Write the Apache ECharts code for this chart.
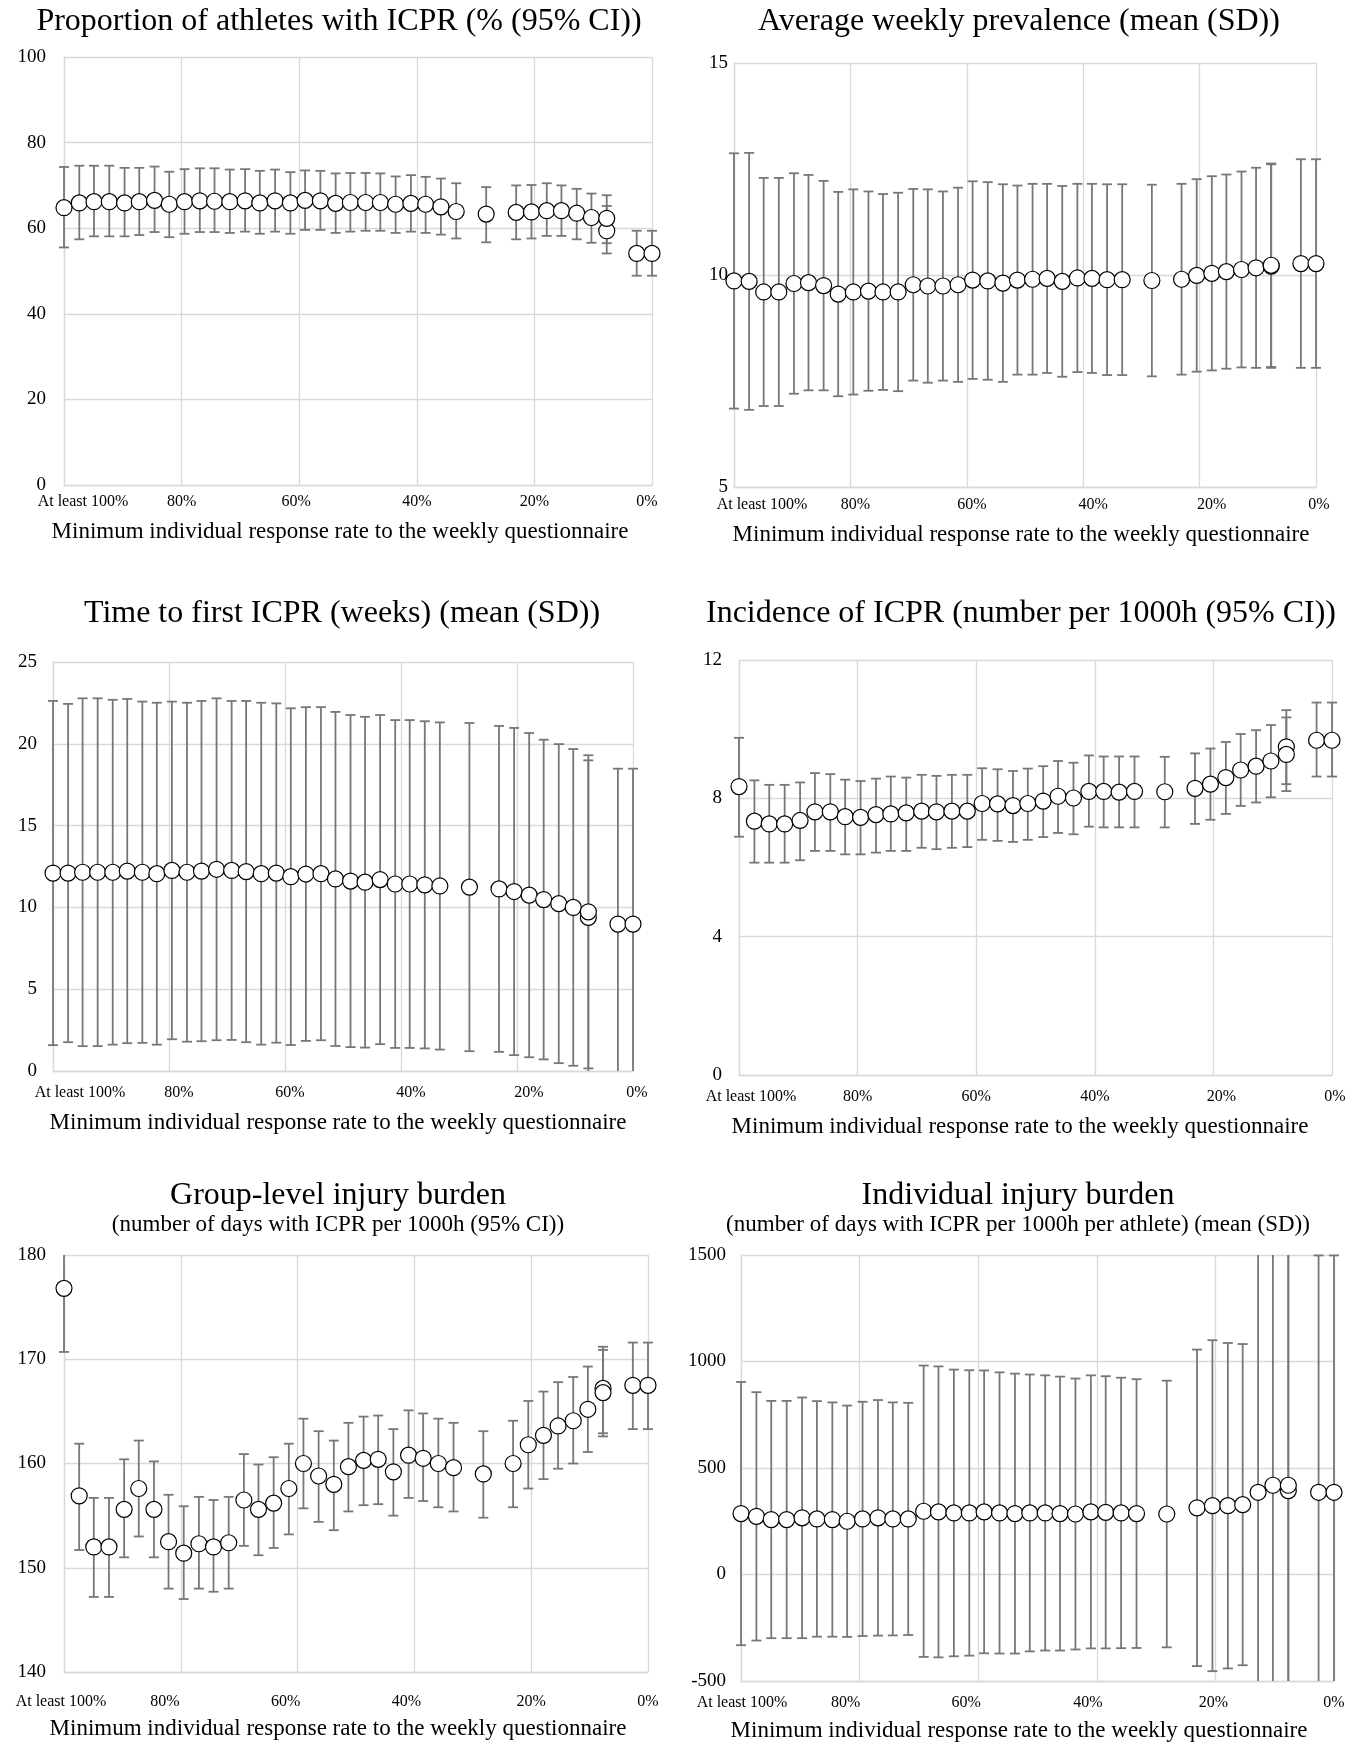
<!DOCTYPE html>
<html>
<head>
<meta charset="utf-8">
<script src="https://cdn.jsdelivr.net/npm/echarts@6.0.0/dist/echarts.min.js"></script>
<style>
  html, body { margin: 0; padding: 0; background: #fff; }
  #chart { width: 1359px; height: 1744px; }
</style>
</head>
<body>
<div id="chart"></div>
<script>
// Minimum individual response rate (%) used as the inclusion threshold
const responseRate = [100, 97.4, 94.9, 92.3, 89.7, 87.2, 84.6, 82.1, 79.5, 76.9, 74.4, 71.8, 69.2,
  66.7, 64.1, 61.5, 59.0, 56.4, 53.8, 51.3, 48.7, 46.2, 43.6, 41.0, 38.5, 35.9, 33.3,
  28.2, 23.1, 20.5, 17.9, 15.4, 12.8, 10.3, 7.7, 7.7, 2.6, 0];
const rateTicks = [100, 80, 60, 40, 20, 0];

// Proportion of athletes with ICPR, % (95% CI)
const proportionMean = [64.8, 65.9, 66.2, 66.2, 65.9, 66.2, 66.5, 65.6, 66.2, 66.4, 66.3, 66.2, 66.4,
  65.9, 66.4, 65.9, 66.5, 66.4, 65.8, 66.0, 66.0, 66.0, 65.6, 65.8, 65.6, 65.0, 63.9,
  63.3, 63.7, 63.8, 64.1, 64.1, 63.5, 62.5, 59.4, 62.3, 54.1, 54.1];
const proportionLow = [55.5, 57.4, 58.1, 58.1, 58.1, 58.4, 59.1, 57.9, 58.7, 59.1, 59.1, 58.9, 59.2,
  58.7, 59.2, 58.7, 59.6, 59.6, 58.9, 59.2, 59.4, 59.4, 58.9, 59.2, 58.9, 58.5, 57.6,
  56.7, 57.4, 57.6, 58.2, 58.2, 57.4, 56.6, 54.1, 56.5, 48.9, 48.9];
const proportionHigh = [74.3, 74.6, 74.6, 74.6, 74.1, 74.1, 74.4, 73.2, 73.8, 74.0, 74.0, 73.7, 73.8,
  73.4, 73.7, 73.1, 73.5, 73.4, 72.8, 72.9, 72.9, 72.8, 72.1, 72.4, 72.0, 71.6, 70.5,
  69.6, 70.0, 70.1, 70.5, 70.0, 69.2, 68.1, 65.2, 67.7, 59.4, 59.4];

// Average weekly prevalence, mean (SD)
const prevalenceMean = [9.86, 9.85, 9.60, 9.60, 9.80, 9.82, 9.75, 9.55, 9.60, 9.62, 9.60, 9.60, 9.77,
  9.74, 9.74, 9.77, 9.88, 9.86, 9.81, 9.88, 9.90, 9.92, 9.85, 9.93, 9.92, 9.89, 9.89,
  9.87, 9.90, 9.99, 10.04, 10.08, 10.13, 10.17, 10.21, 10.23, 10.27, 10.27];
const prevalenceSD = [3.01, 3.03, 2.69, 2.69, 2.60, 2.54, 2.47, 2.41, 2.42, 2.35, 2.31, 2.34, 2.26,
  2.28, 2.23, 2.29, 2.33, 2.33, 2.33, 2.23, 2.25, 2.23, 2.25, 2.22, 2.23, 2.25, 2.25,
  2.26, 2.25, 2.27, 2.29, 2.29, 2.31, 2.36, 2.40, 2.40, 2.46, 2.46];

// Time to first ICPR in weeks, mean (SD)
const timeMean = [12.10, 12.10, 12.15, 12.15, 12.15, 12.22, 12.15, 12.06, 12.26, 12.15, 12.22, 12.33, 12.26,
  12.19, 12.06, 12.10, 11.88, 12.04, 12.06, 11.74, 11.61, 11.54, 11.70, 11.43, 11.43, 11.38, 11.31,
  11.24, 11.13, 10.97, 10.75, 10.48, 10.23, 10.00, 9.39, 9.73, 8.98, 8.98];
const timeSD = [10.52, 10.34, 10.63, 10.63, 10.54, 10.52, 10.43, 10.45, 10.32, 10.36, 10.40, 10.45, 10.36,
  10.43, 10.45, 10.37, 10.29, 10.20, 10.18, 10.21, 10.15, 10.11, 10.06, 10.02, 10.02, 10.00, 10.00,
  10.03, 9.96, 10.00, 9.91, 9.77, 9.75, 9.68, 9.60, 9.57, 9.50, 9.50];

// Incidence of ICPR per 1000 h (95% CI)
const incidenceMean = [8.34, 7.34, 7.26, 7.26, 7.36, 7.61, 7.61, 7.47, 7.45, 7.53, 7.55, 7.58, 7.63,
  7.61, 7.63, 7.63, 7.85, 7.84, 7.79, 7.85, 7.92, 8.06, 8.01, 8.20, 8.20, 8.18, 8.20,
  8.19, 8.29, 8.41, 8.60, 8.82, 8.93, 9.08, 9.49, 9.27, 9.68, 9.68];
const incidenceLow = [6.89, 6.14, 6.14, 6.14, 6.21, 6.48, 6.48, 6.38, 6.38, 6.43, 6.48, 6.48, 6.57,
  6.53, 6.57, 6.59, 6.80, 6.77, 6.74, 6.80, 6.88, 7.00, 6.96, 7.18, 7.16, 7.16, 7.16,
  7.16, 7.26, 7.38, 7.55, 7.78, 7.88, 8.03, 8.41, 8.21, 8.63, 8.63];
const incidenceHigh = [9.75, 8.52, 8.39, 8.39, 8.46, 8.73, 8.70, 8.54, 8.50, 8.57, 8.63, 8.60, 8.68,
  8.65, 8.68, 8.68, 8.87, 8.84, 8.79, 8.86, 8.93, 9.08, 9.03, 9.24, 9.21, 9.21, 9.21,
  9.20, 9.30, 9.44, 9.63, 9.86, 9.97, 10.12, 10.55, 10.34, 10.77, 10.77];

// Group-level injury burden, days with ICPR per 1000 h (95% CI)
const groupBurdenMean = [176.8, 156.9, 152.0, 152.0, 155.6, 157.6, 155.6, 152.5, 151.4, 152.3, 152.0, 152.4, 156.5,
  155.6, 156.2, 157.6, 160.0, 158.8, 158.0, 159.7, 160.3, 160.4, 159.2, 160.8, 160.5, 160.0, 159.6,
  159.0, 160.0, 161.8, 162.7, 163.6, 164.1, 165.2, 167.2, 166.8, 167.5, 167.5];
const groupBurdenLow = [170.7, 151.7, 147.2, 147.2, 151.0, 153.0, 151.0, 148.0, 147.0, 148.0, 147.7, 148.0, 152.1,
  151.2, 151.9, 153.2, 155.7, 154.4, 153.6, 155.4, 156.0, 156.1, 155.0, 156.7, 156.4, 155.8, 155.4,
  154.8, 155.8, 157.6, 158.5, 159.5, 160.0, 161.1, 162.9, 162.6, 163.3, 163.3];
const groupBurdenHigh = [182.9, 161.9, 156.7, 156.7, 160.4, 162.2, 160.2, 157.0, 155.9, 156.8, 156.5, 156.8, 160.9,
  159.9, 160.6, 161.9, 164.3, 163.1, 162.2, 163.9, 164.5, 164.6, 163.3, 165.1, 164.8, 164.3, 163.9,
  163.1, 164.1, 166.0, 166.9, 167.8, 168.3, 169.3, 171.2, 170.9, 171.6, 171.6];

// Individual injury burden, days with ICPR per 1000 h per athlete, mean (SD)
const indivBurdenMean = [286, 273, 258, 258, 266, 261, 258, 250, 261, 266, 261, 261, 297,
  294, 289, 289, 294, 289, 286, 289, 289, 286, 284, 294, 292, 289, 286,
  284, 313, 323, 323, 328, 386, 419, 394, 419, 386, 386];
const indivBurdenSD = [618, 583, 557, 557, 565, 553, 550, 543, 550, 553, 547, 545, 684,
  683, 673, 670, 664, 660, 657, 650, 646, 643, 636, 641, 639, 635, 631,
  626, 743, 777, 764, 754, 1300, 1350, 1350, 1350, 1112, 1112];

const xAxisTitle = 'Minimum individual response rate to the weekly questionnaire';

const FONT = "'Liberation Serif', 'Times New Roman', serif";
const BAR_COLOR = '#777777';
const GRID_COLOR = '#d9d9d9';

const minus = (a, b) => a.map((v, i) => v - b[i]);
const plus = (a, b) => a.map((v, i) => v + b[i]);

const panels = [
  {
    title: 'Proportion of athletes with ICPR (% (95% CI))', titleAt: [339, 22],
    box: [64, 57, 588, 428], y: [0, 100, 20], yMargin: 18, xMargin: 9,
    axisTitleAt: [340, 532], shift: { 100: 19, 60: -3, 0: -5 },
    mean: proportionMean, low: proportionLow, high: proportionHigh
  },
  {
    title: 'Average weekly prevalence (mean (SD))', titleAt: [1019, 22],
    box: [734, 63, 582, 424], y: [5, 15, 5], yMargin: 6, xMargin: 10,
    axisTitleAt: [1021, 535], shift: { 100: 28, 80: 5, 60: 5, 40: 10, 20: 12, 0: 3 },
    mean: prevalenceMean, low: minus(prevalenceMean, prevalenceSD), high: plus(prevalenceMean, prevalenceSD)
  },
  {
    title: 'Time to first ICPR (weeks) (mean (SD))', titleAt: [342, 614],
    box: [53, 662, 580, 409], y: [0, 25, 5], yMargin: 16, xMargin: 14,
    axisTitleAt: [338, 1123], shift: { 100: 27, 80: 10, 60: 5, 40: 10, 20: 12, 0: 4 },
    mean: timeMean, low: minus(timeMean, timeSD), high: plus(timeMean, timeSD)
  },
  {
    title: 'Incidence of ICPR (number per 1000h (95% CI))', titleAt: [1021, 614],
    box: [739, 660, 593, 415], y: [0, 12, 4], yMargin: 17, xMargin: 14,
    axisTitleAt: [1020, 1127], shift: { 100: 12, 20: 8, 0: 3 },
    mean: incidenceMean, low: incidenceLow, high: incidenceHigh
  },
  {
    title: 'Group-level injury burden', titleAt: [338, 1196],
    subtitle: '(number of days with ICPR per 1000h (95% CI))', subtitleAt: [338, 1225],
    box: [64, 1255, 584, 417], y: [140, 180, 10], yMargin: 18, xMargin: 22,
    axisTitleAt: [338, 1729], shift: { 100: -3, 80: -16, 60: -12, 40: -8 },
    mean: groupBurdenMean, low: groupBurdenLow, high: groupBurdenHigh
  },
  {
    title: 'Individual injury burden', titleAt: [1018, 1196],
    subtitle: '(number of days with ICPR per 1000h per athlete) (mean (SD))', subtitleAt: [1018, 1225],
    box: [741, 1255, 593, 426], y: [-500, 1500, 500], yMargin: 15, xMargin: 14,
    axisTitleAt: [1019, 1731], shift: { 100: 1, 80: -14, 60: -12, 40: -9, 20: -2 },
    mean: indivBurdenMean, low: minus(indivBurdenMean, indivBurdenSD), high: plus(indivBurdenMean, indivBurdenSD)
  }
];

// Vertical whisker with end caps; ends that leave the value range are cut at the frame without a cap
function errorBarRenderer(yMin, yMax) {
  return function (params, api) {
    const x = api.value(0);
    const lo = api.value(1);
    const hi = api.value(2);
    const pLo = api.coord([x, Math.max(lo, yMin)]);
    const pHi = api.coord([x, Math.min(hi, yMax)]);
    const cx = pLo[0];
    const cap = 5;
    const style = { stroke: BAR_COLOR, lineWidth: 1.8 };
    const children = [
      { type: 'line', shape: { x1: cx, y1: pHi[1], x2: cx, y2: pLo[1] }, style }
    ];
    if (hi <= yMax) children.push({ type: 'line', shape: { x1: cx - cap, y1: pHi[1], x2: cx + cap, y2: pHi[1] }, style });
    if (lo >= yMin) children.push({ type: 'line', shape: { x1: cx - cap, y1: pLo[1], x2: cx + cap, y2: pLo[1] }, style });
    return { type: 'group', children };
  };
}

function textItem(text, at, size) {
  return {
    type: 'text', x: at[0], y: at[1], silent: true,
    style: {
      text, fill: '#000', font: size + 'px ' + FONT,
      align: 'center', verticalAlign: 'middle',
      textAlign: 'center', textVerticalAlign: 'middle'
    }
  };
}

const option = {
  animation: false,
  backgroundColor: '#fff',
  grid: [], xAxis: [], yAxis: [], series: [], graphic: []
};

panels.forEach((p, i) => {
  option.grid.push({ left: p.box[0], top: p.box[1], width: p.box[2], height: p.box[3] });

  const rich = {};
  rateTicks.forEach(t => {
    const dx = p.shift[t] || 0;
    rich['t' + t] = {
      fontFamily: FONT, fontSize: 16, color: '#000',
      padding: dx >= 0 ? [0, 0, 0, 2 * dx] : [0, -2 * dx, 0, 0]
    };
  });

  option.xAxis.push({
    type: 'value', gridIndex: i, min: 0, max: 100, interval: 20, inverse: true,
    axisLine: { show: true, onZero: false, lineStyle: { color: GRID_COLOR, width: 1.3 } },
    axisTick: { show: false },
    splitLine: { show: true, lineStyle: { color: GRID_COLOR, width: 1.3 } },
    axisLabel: {
      margin: p.xMargin, rich,
      formatter: v => '{t' + v + '|' + (v === 100 ? 'At least 100%' : v + '%') + '}'
    }
  });

  option.yAxis.push({
    type: 'value', gridIndex: i, min: p.y[0], max: p.y[1], interval: p.y[2],
    axisLine: { show: true, onZero: false, lineStyle: { color: GRID_COLOR, width: 1.3 } },
    axisTick: { show: false },
    splitLine: { show: true, lineStyle: { color: GRID_COLOR, width: 1.3 } },
    axisLabel: {
      margin: p.yMargin, fontFamily: FONT, fontSize: 19, color: '#000',
      formatter: v => String(v)
    }
  });

  option.series.push({
    type: 'custom', xAxisIndex: i, yAxisIndex: i, z: 2, silent: true,
    renderItem: errorBarRenderer(p.y[0], p.y[1]),
    data: responseRate.map((x, j) => [x, p.low[j], p.high[j]])
  });

  option.series.push({
    type: 'scatter', xAxisIndex: i, yAxisIndex: i, z: 3, silent: true,
    symbol: 'circle', symbolSize: 16,
    itemStyle: { color: '#fff', borderColor: '#000', borderWidth: 1.2, opacity: 1 },
    data: responseRate.map((x, j) => [x, p.mean[j]])
  });

  option.graphic.push(textItem(p.title, p.titleAt, 32));
  if (p.subtitle) option.graphic.push(textItem(p.subtitle, p.subtitleAt, 23));
  option.graphic.push(textItem(xAxisTitle, p.axisTitleAt, 23));
});

const chart = echarts.init(document.getElementById('chart'), null, { renderer: 'canvas' });
chart.setOption(option);
</script>
</body>
</html>
